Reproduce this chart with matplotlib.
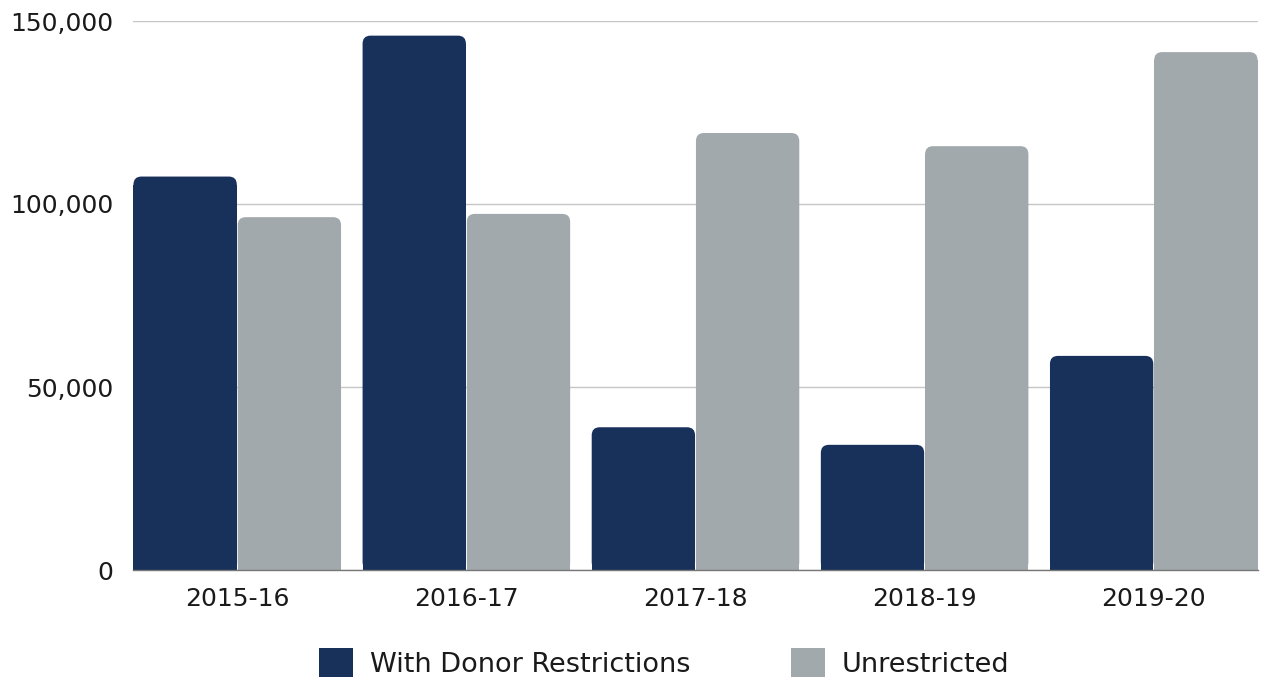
import matplotlib
matplotlib.use("Agg")
import matplotlib.pyplot as plt
from matplotlib.patches import FancyBboxPatch, Rectangle
import numpy as np

years = ["2015-16", "2016-17", "2017-18", "2018-19", "2019-20"]
donor_restricted = [107500, 146000, 39000, 34200, 58500]
unrestricted = [96400, 97300, 119400, 115800, 141500]
series_names = ["With Donor Restrictions", "Unrestricted"]
colors = ["#17315A", "#A2A9AC"]

plt.rcParams["font.family"] = ["DejaVu Sans"]

fig = plt.figure(figsize=(12.61, 6.77), dpi=100)
ax = fig.add_axes([133 / 1261, 1 - 570 / 677, 1125 / 1261, 549 / 677])

x = np.arange(len(years))
w = 0.451
xlim = (-0.455, len(years) - 1 + 0.455)
ylim = (0, 150000)
ax.set_xlim(*xlim)
ax.set_ylim(*ylim)

# radius of the rounded top corners, in pixels
r_px = 8
bb = ax.get_position()
ax_w_px = bb.width * fig.get_figwidth() * fig.dpi
ax_h_px = bb.height * fig.get_figheight() * fig.dpi
x_per_px = (xlim[1] - xlim[0]) / ax_w_px
y_per_px = (ylim[1] - ylim[0]) / ax_h_px
rx = r_px * x_per_px
ry = r_px * y_per_px

for vals, off, col, name in zip([donor_restricted, unrestricted], [-0.2275, 0.2275], colors, series_names):
    bars = ax.bar(x + off, vals, width=w, color=col, label=name)
    for b in bars:
        b.set_visible(False)
        x0, h = b.get_x(), b.get_height()
        ax.add_patch(FancyBboxPatch((x0, 0), w, h,
                                    boxstyle="round,pad=0,rounding_size=%f" % rx,
                                    mutation_aspect=ry / rx,
                                    facecolor=col, edgecolor="none", zorder=2))
        ax.add_patch(Rectangle((x0, 0), w, max(h - ry, 0),
                               facecolor=col, edgecolor="none", zorder=2))

ax.set_xticks(x)
ax.set_xticklabels(years)
ax.set_yticks([0, 50000, 100000, 150000])
ax.set_yticklabels(["0", "50,000", "100,000", "150,000"])
ax.tick_params(axis="both", length=0, labelsize=18, colors="#1a1a1a")
ax.tick_params(axis="y", pad=14)
ax.tick_params(axis="x", pad=12)

ax.grid(axis="y", color="#c6c6c6", linewidth=1)
ax.set_axisbelow(True)
for s in ["top", "right", "left"]:
    ax.spines[s].set_visible(False)
ax.spines["bottom"].set_color("#777777")
ax.spines["bottom"].set_linewidth(1)
ax.spines["bottom"].set_zorder(3)

proxies = [Rectangle((0, 0), 1, 1, facecolor=c, edgecolor="none") for c in colors]
leg = fig.legend(proxies, series_names, loc="center", bbox_to_anchor=(0.527, 1 - 663 / 677),
                 ncol=2, frameon=False, fontsize=19.5, handlelength=1.25, handleheight=1.25,
                 handletextpad=0.63, columnspacing=3.7, borderpad=0)
for t in leg.get_texts():
    t.set_color("#1a1a1a")

fig.savefig("out.png", dpi=100)
